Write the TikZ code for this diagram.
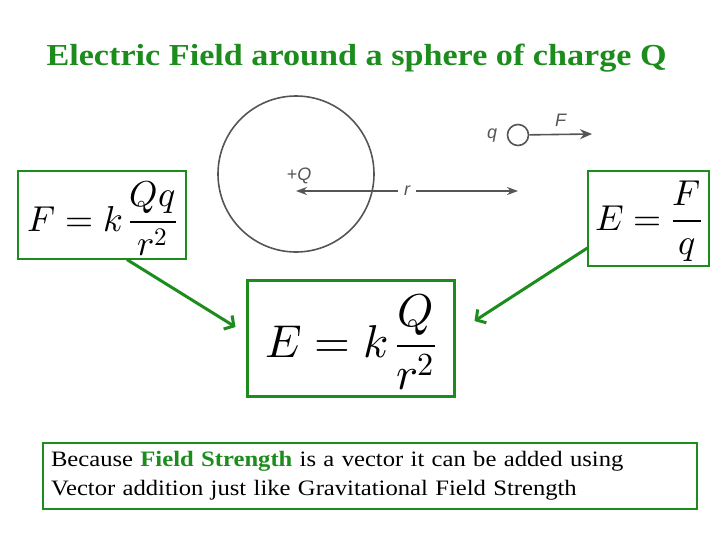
\documentclass[tikz,border=0pt]{standalone}
\usepackage{fontspec}
\usepackage{unicode-math}
\setmainfont{Liberation Serif}[FakeStretch=1.12]
\setmathfont{Latin Modern Math}
\newfontfamily\labelfont{Liberation Sans}
\usetikzlibrary{arrows.meta}
\definecolor{fieldgreen}{RGB}{28,140,28}
\definecolor{sketchgray}{RGB}{85,85,85}
\begin{document}
\begin{tikzpicture}[x=1pt,y=-1pt,
    formbox/.style={draw=fieldgreen, line width=1.2pt, inner sep=0pt},
    sketch/.style={draw=sketchgray, line width=1.6pt},
    sketchlabel/.style={text=sketchgray, font=\labelfont\itshape\fontsize{18}{18}\selectfont, inner sep=1pt},
    greenarrow/.style={draw=fieldgreen, line width=3pt, -{Straight Barb[length=7pt,width=16pt]}}]
  \useasboundingbox (0,0) rectangle (728,546);
  \node[anchor=base west, text=fieldgreen, font=\bfseries\fontsize{30.5}{36}\selectfont] (title) at (43,65)
    {Electric Field around a sphere of charge Q};
  % sphere and test charge
  \node[sketch, circle, minimum size=156pt] (sphere) at (296,174) {};
  \node[sketchlabel] (Qlabel) at (299,176) {+Q};
  \node[sketch, circle, minimum size=21pt] (charge) at (518,135) {};
  \node[sketchlabel] (qlabel) at (492,136) {q};
  \coordinate (rstart) at (296,191);
  \coordinate (rend) at (518,191);
  \coordinate (ftip) at (592,134);
  % formulas
  \node[formbox, minimum width=168pt, minimum height=88pt, text height=40pt, text depth=8pt,
    font=\fontsize{36}{40}\selectfont] (force) at (102,215) {$\displaystyle F = k\,\frac{Qq}{r^2}$};
  \node[formbox, minimum width=121pt, minimum height=95pt, text height=34pt, text depth=11pt,
    font=\fontsize{36}{40}\selectfont] (field) at (648.5,218.5) {$\displaystyle E = \frac{F}{q}$};
  \node[formbox, line width=3pt, minimum width=207pt, minimum height=116pt, text height=50pt, text depth=11pt,
    font=\fontsize{46}{50}\selectfont] (result) at (350.5,338) {$\displaystyle E = k\,\frac{Q}{r^2}$};
  \node[formbox, minimum width=654pt, minimum height=66pt, text width=638pt, inner xsep=8pt, align=left,
    font=\fontsize{22}{29}\selectfont] (note) at (370,476)
    {Because \textcolor{fieldgreen}{\textbf{Field Strength}} is a vector it can be added using\\
     Vector addition just like Gravitational Field Strength};
  \begin{scope}[sketch]
    \draw[{Stealth[length=11pt,width=8pt]}-{Stealth[length=11pt,width=8pt]}] (rstart) --
      node[fill=white, sketchlabel, inner xsep=6pt] (rlabel) {r} (rend);
    \draw[-{Stealth[length=12pt,width=10pt]}] (charge) -- node[sketchlabel, above=6pt] (flabel) {F} (ftip);
  \end{scope}
  \draw[greenarrow] ([xshift=25pt]force.south) -- ([xshift=-10pt,yshift=11pt]result.west);
  \draw[greenarrow] ([yshift=-29.5pt]field.west) -- ([xshift=19pt,yshift=17pt]result.east);
\end{tikzpicture}
\end{document}
